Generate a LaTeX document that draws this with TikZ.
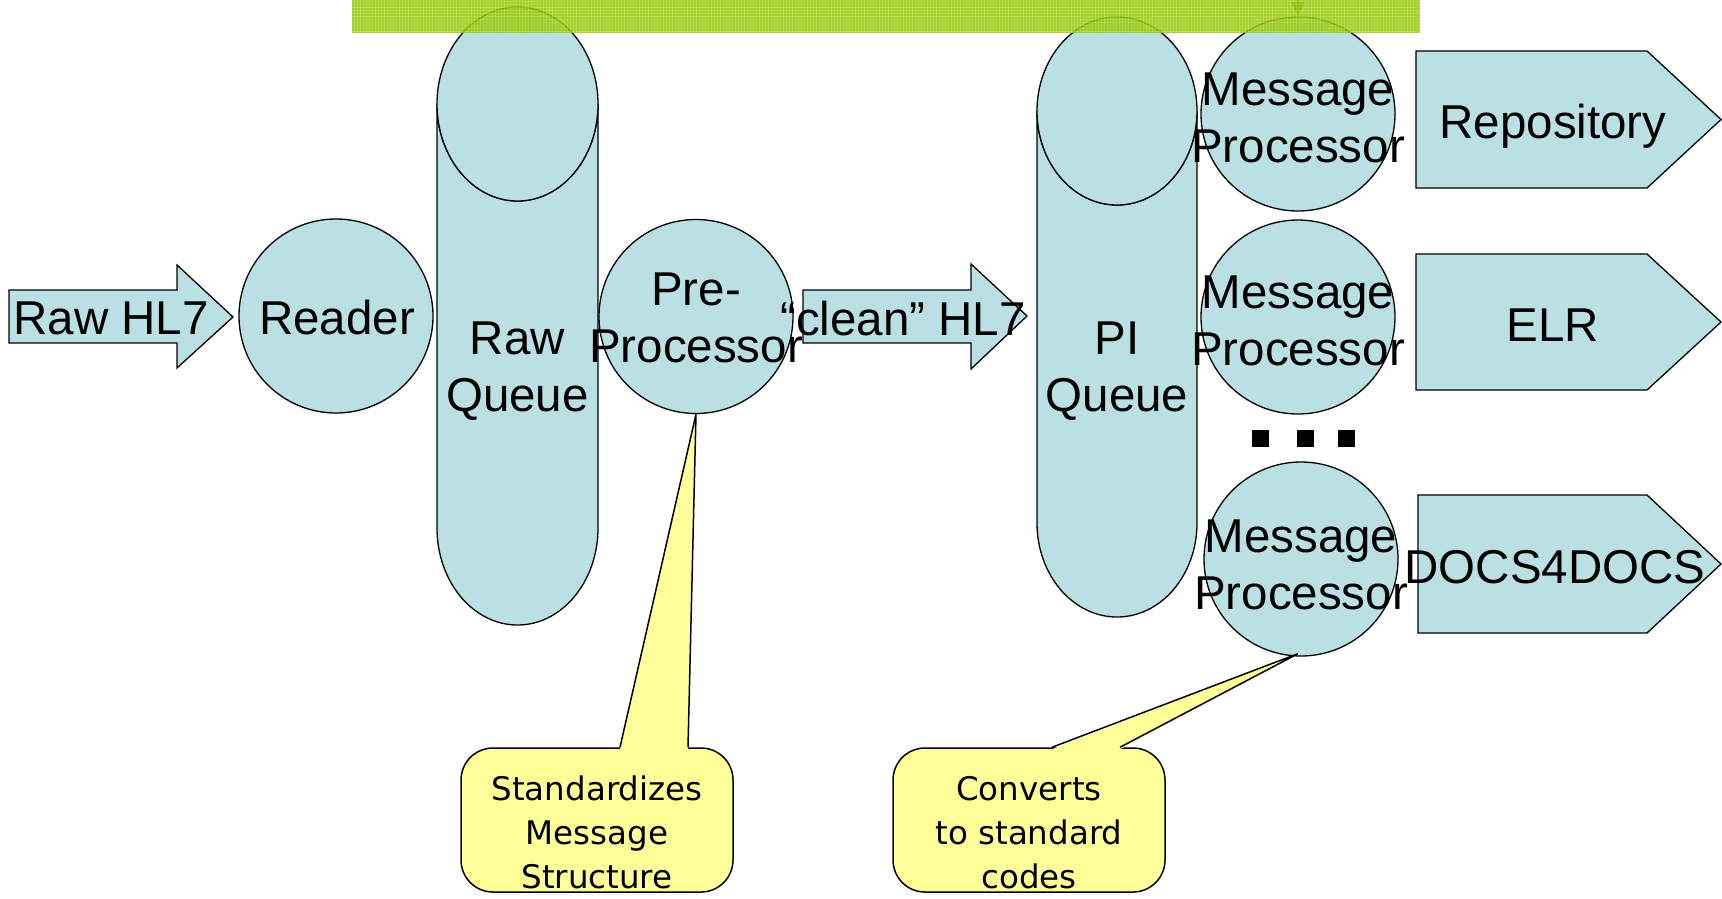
\documentclass[tikz,border=0pt]{standalone}
\usepackage{fontspec}
\setmainfont{Liberation Sans}
\newfontfamily\callfont{DejaVu Sans}
\usetikzlibrary{arrows.meta,calc,patterns}
\definecolor{qblue}{RGB}{187,224,227}
\definecolor{cyellow}{RGB}{255,255,153}
\definecolor{bargreen}{RGB}{150,202,0}
\definecolor{darkolive}{RGB}{80,110,0}
\newcommand{\twolines}[2]{\begin{tabular}[t]{@{}c@{}}#1\\#2\end{tabular}}
\newcommand{\threelines}[3]{\begin{tabular}[t]{@{}c@{}}#1\\#2\\#3\end{tabular}}
\begin{document}
\begin{tikzpicture}[x=1pt,y=-1pt,
  bluefill/.style={fill=qblue, draw=black, line width=1.3pt},
  circ/.style={bluefill, circle, minimum size=194pt, inner sep=0pt},
  lbl/.style={font=\fontsize{47.5}{57}\selectfont, inner sep=0pt, anchor=base},
  calltext/.style={font=\callfont\fontsize{32.5}{44}\selectfont, inner sep=0pt, anchor=base},
  callbox/.style={fill=cyellow, draw=black, line width=1.5pt, rounded corners=32pt, minimum width=272pt, minimum height=144pt, inner sep=0pt},
  calltail/.style={draw=black, line width=1.5pt, line join=miter},
  sqdot/.style={fill=black, minimum size=17pt, inner sep=0pt}
]
\clip (0,0) rectangle (1722,898);
\fill[white] (0,0) rectangle (1722,898);

% Raw Queue cylinder
\draw[bluefill] (437,104) -- (437,528) arc[start angle=180, end angle=360, x radius=80.5pt, y radius=97pt] -- (598,104) arc[start angle=0, end angle=-180, x radius=80.5pt, y radius=97pt] -- cycle;
\draw[bluefill] (517.5,104) ellipse[x radius=80.5pt, y radius=97pt];
\coordinate (rawq) at (517.5,300);

% PI Queue cylinder
\draw[bluefill] (1037,111) -- (1037,523) arc[start angle=180, end angle=360, x radius=80pt, y radius=94pt] -- (1197,111) arc[start angle=0, end angle=-180, x radius=80pt, y radius=94pt] -- cycle;
\draw[bluefill] (1117,111) ellipse[x radius=80pt, y radius=94pt];
\coordinate (piq) at (1117,300);

% Raw HL7 arrow
\draw[bluefill, line join=miter] (9,290) -- (177,290) -- (177,265) -- (233,317) -- (177,368) -- (177,343) -- (9,343) -- cycle;
\coordinate (rawarrow) at (111,317);
% clean HL7 arrow
\draw[bluefill, line join=miter] (803,290) -- (971,290) -- (971,264) -- (1027,316) -- (971,369) -- (971,343) -- (803,343) -- cycle;
\coordinate (cleanarrow) at (903,317);

% circles
\node[circ] (reader) at (336,316) {};
\node[circ] (pre) at (696,316.5) {};
\node[circ] (mp1) at (1298,114) {};
\node[circ] (mp2) at (1298,317) {};
\node[circ] (mp3) at (1301,559) {};

% pentagons
\draw[bluefill, line join=miter] (1416,51) -- (1647,51) -- (1721,119.5) -- (1647,188) -- (1416,188) -- cycle;
\draw[bluefill, line join=miter] (1416,254) -- (1647,254) -- (1721,322) -- (1647,390) -- (1416,390) -- cycle;
\draw[bluefill, line join=miter] (1418,495) -- (1647,495) -- (1721,564) -- (1647,633) -- (1418,633) -- cycle;

% dots
\node[sqdot] (d1) at (1260,438) {};
\node[sqdot] (d2) at (1305,438) {};
\node[sqdot] (d3) at (1346,438) {};

% small arrow at top
\coordinate (topsrc) at (1298,-10);
\draw[darkolive, line width=1.2pt, -{Triangle[length=14pt,width=13pt]}, opacity=0.8] (topsrc) -- (mp1.north);

% green bar
\fill[bargreen, opacity=0.85] (352,0) rectangle (1420,33);
\fill[pattern=grid, pattern color=white, opacity=0.15] (352,0) rectangle (1420,33);

% labels
\node[lbl] at (111,334) {Raw HL7};
\node[lbl] at (337,334) {Reader};
\node[lbl] at (517.5,354) {\twolines{Raw}{Queue}};
\node[lbl] at (696,305) {\twolines{Pre-}{Processor}};
\node[lbl] at (903,335) {“clean” HL7};
\node[lbl] at (1117,354) {\twolines{PI}{Queue}};
\node[lbl] at (1298,105) {\twolines{Message}{Processor}};
\node[lbl] at (1298,308) {\twolines{Message}{Processor}};
\node[lbl] at (1301,552) {\twolines{Message}{Processor}};
\node[lbl] at (1553,138) {Repository};
\node[lbl] at (1553,341) {ELR};
\node[lbl] at (1555,583) {DOCS4DOCS};

% callouts
\node[callbox] (c1) at (597,820) {};
\fill[cyellow] ($(c1.north)+(23,2)$) -- (pre.south) -- ($(c1.north)+(91,2)$) -- cycle;
\draw[calltail] ($(c1.north)+(23,0)$) -- (pre.south) -- ($(c1.north)+(91,0)$);
\node[calltext] at (597,800) {\threelines{Standardizes}{Message}{Structure}};

\node[callbox] (c2) at (1029,820) {};
\fill[cyellow] ($(c2.north)+(23,2)$) -- ($(mp3.south)+(-3,-3)$) -- ($(c2.north)+(91,2)$) -- cycle;
\draw[calltail] ($(c2.north)+(23,0)$) -- ($(mp3.south)+(-3,-3)$) -- ($(c2.north)+(91,0)$);
\node[calltext] at (1029,800) {\threelines{Converts}{to standard}{codes}};
\end{tikzpicture}
\end{document}
